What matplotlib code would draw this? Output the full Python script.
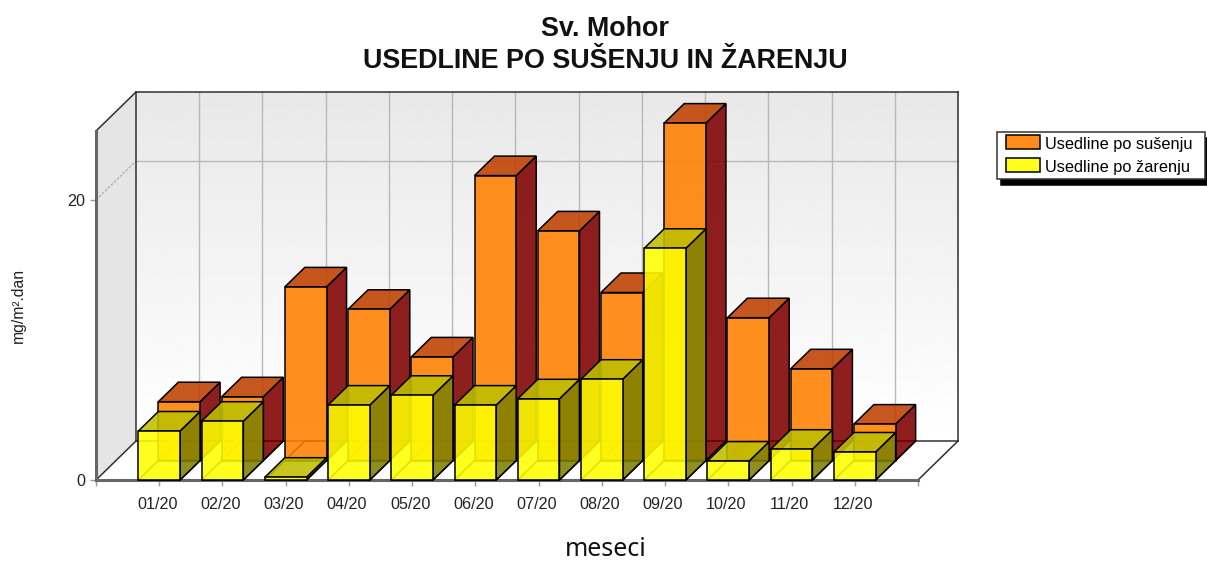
import numpy as np
import matplotlib
matplotlib.use("Agg")
import matplotlib.pyplot as plt
from matplotlib.patches import Polygon, Patch, Rectangle
from matplotlib.legend_handler import HandlerPatch
from matplotlib.transforms import ScaledTranslation

months = ["01/20", "02/20", "03/20", "04/20", "05/20", "06/20",
          "07/20", "08/20", "09/20", "10/20", "11/20", "12/20"]
susenje = [4.2, 4.55, 12.4, 10.8, 7.4, 20.35, 16.4, 12.0, 24.1, 10.2, 6.55, 2.6]
zarenje = [3.5, 4.2, 0.2, 5.35, 6.05, 5.35, 5.8, 7.2, 16.55, 1.35, 2.2, 2.0]

W, H = 1207, 561
plt.rcParams["font.family"] = ["Liberation Sans"]

fig = plt.figure(figsize=(W / 100, H / 100), dpi=100)
# front plane of the 3d box, in pixels
left, right, top, bottom = 96, 918, 131, 480
ax = fig.add_axes([left / W, 1 - bottom / H, (right - left) / W, (bottom - top) / H])
ax.set_xlim(0, 13)
ax.set_ylim(0, (bottom - top) / 14)

# one depth step = half of the box depth
DX = 20 / ((right - left) / 13)
DY = 19.5 / 14
BAR = 0.66
ALPHA = 0.88
ymax = ax.get_ylim()[1]


def poly(pts, face, z, edge="black", lw=1.1):
    ax.add_patch(Polygon(pts, closed=True, facecolor=face, edgecolor=edge, linewidth=lw,
                         zorder=z, clip_on=False, joinstyle="miter"))


def box(xc, val, d, front, topc, side, z):
    x0, x1 = xc - BAR / 2, xc + BAR / 2
    y0, y1 = d * DY, d * DY + val
    x0, x1 = x0 + d * DX, x1 + d * DX
    poly([(x0, y0), (x1, y0), (x1 + DX, y0 + DY), (x0 + DX, y0 + DY)], (*front[:3], 0), z)
    poly([(x1, y0), (x1 + DX, y0 + DY), (x1 + DX, y1 + DY), (x1, y1)], (*side, ALPHA), z)
    poly([(x0, y1), (x1, y1), (x1 + DX, y1 + DY), (x0 + DX, y1 + DY)], (*topc, ALPHA), z)
    poly([(x0, y0), (x1, y0), (x1, y1), (x0, y1)], (*front, ALPHA), z)


# walls
grad = np.linspace(0.91, 1, 256).reshape(-1, 1)
ax.imshow(grad, cmap="gray", vmin=0, vmax=1, aspect="auto", zorder=1, clip_on=False,
          extent=(2 * DX, 13 + 2 * DX, 2 * DY, ymax + 2 * DY))
ax.set_xlim(0, 13)
ax.set_ylim(0, ymax)
poly([(0, 0), (2 * DX, 2 * DY), (2 * DX, ymax + 2 * DY), (0, ymax)], "#e5e5e5", 1, edge="none")

# grid on the back wall
for i in range(1, 13):
    ax.plot([i + 2 * DX] * 2, [2 * DY, ymax + 2 * DY], color="#b8b8b8", lw=1, zorder=2, clip_on=False)
ax.plot([2 * DX, 13 + 2 * DX], [20 + 2 * DY] * 2, color="#b8b8b8", lw=1, zorder=2, clip_on=False)
ax.plot([0, 2 * DX], [20, 20 + 2 * DY], color="#b4b4b4", lw=1, ls=(0, (2, 1)), zorder=2, clip_on=False)

# box outline
outline = [([0, 2 * DX], [ymax, ymax + 2 * DY]),
           ([2 * DX, 13 + 2 * DX], [ymax + 2 * DY] * 2),
           ([2 * DX, 2 * DX], [2 * DY, ymax + 2 * DY]),
           ([13 + 2 * DX, 13 + 2 * DX], [2 * DY, ymax + 2 * DY]),
           ([2 * DX, 13 + 2 * DX], [2 * DY, 2 * DY]),
           ([0, 2 * DX], [0, 2 * DY]),
           ([13, 13 + 2 * DX], [0, 2 * DY])]
for xs, ys in outline:
    ax.plot(xs, ys, color="#303030", lw=1.1, zorder=3, clip_on=False)

ORANGE = (1, 0.5, 0)
YELLOW = (1, 1, 0)
for i, v in enumerate(susenje):
    box(i + 1, v, 1, ORANGE, (0.75, 0.25, 0), (0.5, 0, 0), 4 + i * 0.01)
for i, v in enumerate(zarenje):
    box(i + 1, v, 0, YELLOW, (0.75, 0.75, 0), (0.5, 0.5, 0), 5 + i * 0.01)

# axes
for s in ("top", "right"):
    ax.spines[s].set_visible(False)
for s in ("left", "bottom"):
    ax.spines[s].set_color("#666666")
    ax.spines[s].set_linewidth(2.2)
    ax.spines[s].set_zorder(3)
ax.set_xticks(range(14), [""] + months + [""])
ax.set_yticks([0, 20])
ax.tick_params(axis="both", color="#999999", length=4.5, width=1, labelsize=11.6, labelcolor="#222222")
ax.tick_params(axis="x", pad=7.5)
ax.tick_params(axis="y", pad=3)
# labels sit a bit left of their ticks
shift = ScaledTranslation(-2 / 100, 0, fig.dpi_scale_trans)
for lab in ax.get_xticklabels():
    lab.set_transform(lab.get_transform() + shift)

fig.text(18 / W, 1 - 305.5 / H, "mg/m².dan", rotation=90, ha="center", va="center", fontsize=11.3, color="#222222")
fig.text(605.5 / W, 1 - 549 / H, "meseci", ha="center", va="center", fontsize=18,
         family="Noto Sans", color="#111111")
fig.text(605 / W, 1 - 44.5 / H, "Sv. Mohor\nUSEDLINE PO SUŠENJU IN ŽARENJU", ha="center", va="center",
         fontsize=19.4, fontweight="bold", family="Liberation Sans", linespacing=1.3, color="#111111")


def swatch(legend, orig_handle, xdescent, ydescent, width, height, fontsize):
    return Rectangle((3.6, 0), 24.5, height)


handles = [Patch(facecolor=(1, 0.55, 0.1), edgecolor="black", linewidth=1.1, label="Usedline po sušenju"),
           Patch(facecolor=(1, 1, 0.1), edgecolor="black", linewidth=1.1, label="Usedline po žarenju")]
leg = fig.legend(handles=handles, loc="upper left", bbox_to_anchor=(997 / W, 1 - 132 / H, 208 / W, 0),
                 bbox_transform=fig.transFigure, borderaxespad=0, fancybox=False, framealpha=1,
                 edgecolor="#333333", fontsize=11.8, handlelength=2.47, handleheight=0.9,
                 handletextpad=0.2, labelspacing=0.45, borderpad=0.27, mode="expand",
                 handler_map={Patch: HandlerPatch(patch_func=swatch)},
                 shadow={"color": "black", "alpha": 1, "ox": 3, "oy": -4.3})
leg.get_frame().set_linewidth(1.1)

fig.savefig("out.png", dpi=100)
